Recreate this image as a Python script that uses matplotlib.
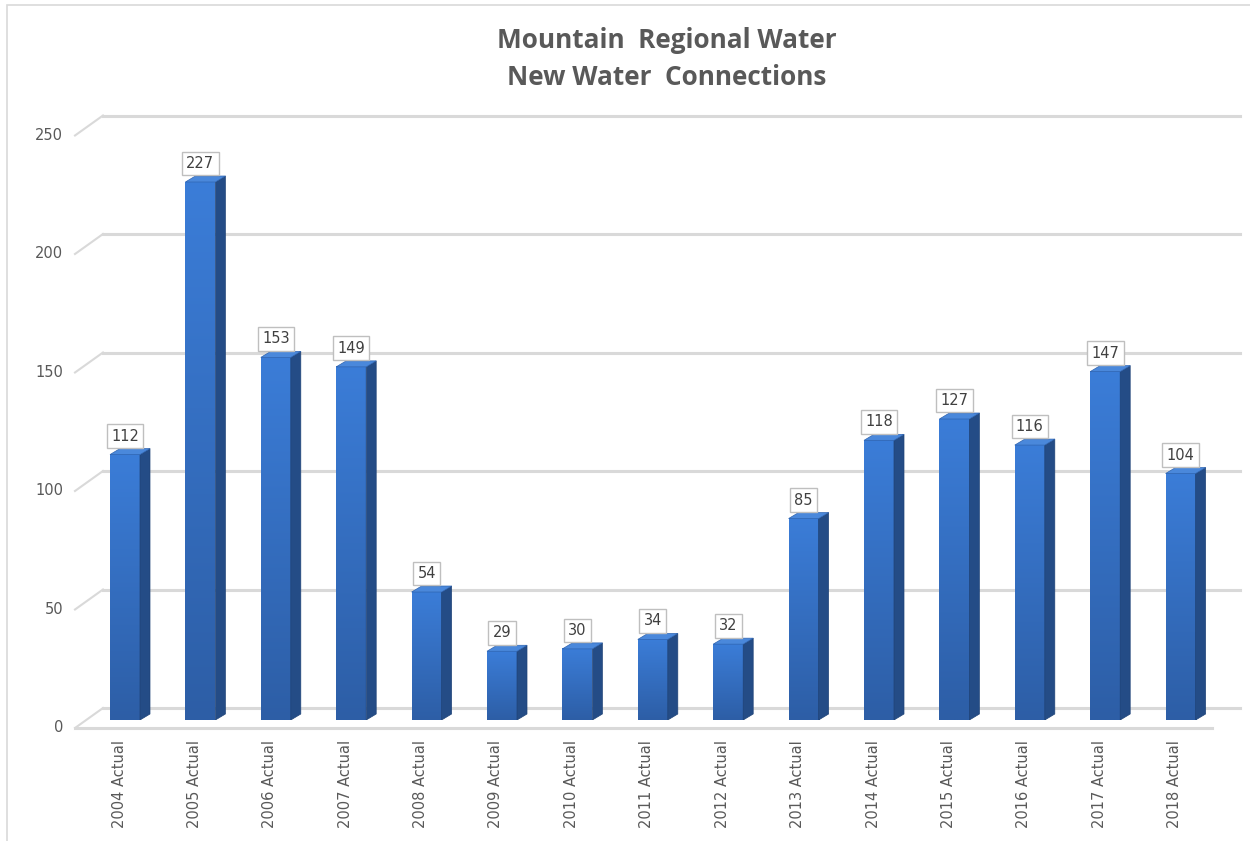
import matplotlib
matplotlib.use("Agg")
import matplotlib.pyplot as plt
import numpy as np
from matplotlib.patches import Polygon, Rectangle
from matplotlib.transforms import offset_copy

categories = ["2004 Actual", "2005 Actual", "2006 Actual", "2007 Actual", "2008 Actual",
              "2009 Actual", "2010 Actual", "2011 Actual", "2012 Actual", "2013 Actual",
              "2014 Actual", "2015 Actual", "2016 Actual", "2017 Actual", "2018 Actual"]
connections = [112, 227, 153, 149, 54, 29, 30, 34, 32, 85, 118, 127, 116, 147, 104]
y_ticks = [0, 50, 100, 150, 200, 250]
title = "Mountain  Regional Water\nNew Water  Connections"

W, H, DPI = 1250, 841, 100
fig = plt.figure(figsize=(W / DPI, H / DPI), dpi=DPI)

# axes = plane of the bar front faces (pixel layout)
ax_l, ax_r, ax_b, ax_t = 75, 1240, 720, 127.5
ax = fig.add_axes([ax_l / W, 1 - ax_b / H, (ax_r - ax_l) / W, (ax_b - ax_t) / H])
ax.set_ylim(0, 250)
px_per_cat = 75.4
first_center = 125
ax.set_xlim(-(first_center - ax_l) / px_per_cat, (ax_r - first_center) / px_per_cat)
ax.set_axis_off()
ax.patch.set_visible(False)

px_per_unit = (ax_b - ax_t) / 250
depth_x = 28 / px_per_cat          # floor depth in category units
front_dy = -8 / px_per_unit        # front plane relative to bar plane
back_dy = 12 / px_per_unit         # back wall relative to bar plane
x0, x1 = ax.get_xlim()

grid_c = "#D9D9D9"
for v in y_ticks:
    # back wall gridline and the small left diagonal
    ax.plot([x0 + depth_x, x1], [v + back_dy, v + back_dy], color=grid_c, lw=2.2,
            clip_on=False, zorder=1)
    ax.plot([x0, x0 + depth_x], [v + front_dy, v + back_dy], color=grid_c, lw=1.5,
            clip_on=False, zorder=1)
# front floor edge
ax.plot([x0, x1 - depth_x], [front_dy, front_dy], color=grid_c, lw=2.2, clip_on=False, zorder=1)

# y tick labels on the front plane
for v in y_ticks:
    ax.text(x0 - 12 / px_per_cat, v + front_dy, str(v), ha="right", va="center",
            fontsize=10.5, color="#595959", family="DejaVu Sans")

# 3D-looking columns
bar_w = 30 / px_per_cat
side_dx = 10 / px_per_cat
side_dy = 6 / px_per_unit
x = np.arange(len(connections))

grad = np.linspace(0, 1, 256).reshape(-1, 1)
front_cmap = matplotlib.colors.LinearSegmentedColormap.from_list("f", ["#2D5EA6", "#3B7DD8"])
for xi, v in zip(x, connections):
    left, right = xi - bar_w / 2, xi + bar_w / 2
    face = Rectangle((left, 0), bar_w, v, facecolor="none", edgecolor="none")
    ax.add_patch(face)
    img = ax.imshow(grad, extent=(left, right, 0, v), origin="lower", cmap=front_cmap,
                    aspect="auto", zorder=3, clip_on=False)
    img.set_clip_path(face)
    side = Polygon([(right, 0), (right + side_dx, side_dy), (right + side_dx, v + side_dy), (right, v)],
                   closed=True, facecolor="#244C86", edgecolor="#1F4377", lw=0.5, zorder=3)
    top = Polygon([(left, v), (left + side_dx, v + side_dy), (right + side_dx, v + side_dy), (right, v)],
                  closed=True, facecolor="#4A88DB", edgecolor="#2F64B0", lw=0.5, zorder=4)
    ax.add_patch(side)
    ax.add_patch(top)
    ax.text(xi, v + 11 / px_per_unit, str(v), ha="center", va="bottom", fontsize=10.5,
            color="#404040", zorder=5,
            bbox=dict(boxstyle="square,pad=0.3", facecolor="white", edgecolor="#BFBFBF", lw=1))

# category labels, rotated, below the front floor edge
lab_tr = offset_copy(ax.transData, fig=fig, x=-6, y=-20, units="dots")
for xi, name in zip(x, categories):
    ax.text(xi, 0, name, rotation=90, ha="center", va="top", fontsize=10.5,
            color="#595959", transform=lab_tr)

fig.text(667 / W, 1 - 59 / H, title, ha="center", va="center", fontsize=18.8, fontweight="bold",
         color="#595959", family="Open Sans", linespacing=1.45)

# chart area border (top and left visible)
fig.patches.append(Rectangle((7 / W, -0.1), 2, 1.1 - 5 / H, transform=fig.transFigure,
                             facecolor="none", edgecolor="#D9D9D9", lw=1.2))

fig.savefig("out.png", dpi=DPI)
